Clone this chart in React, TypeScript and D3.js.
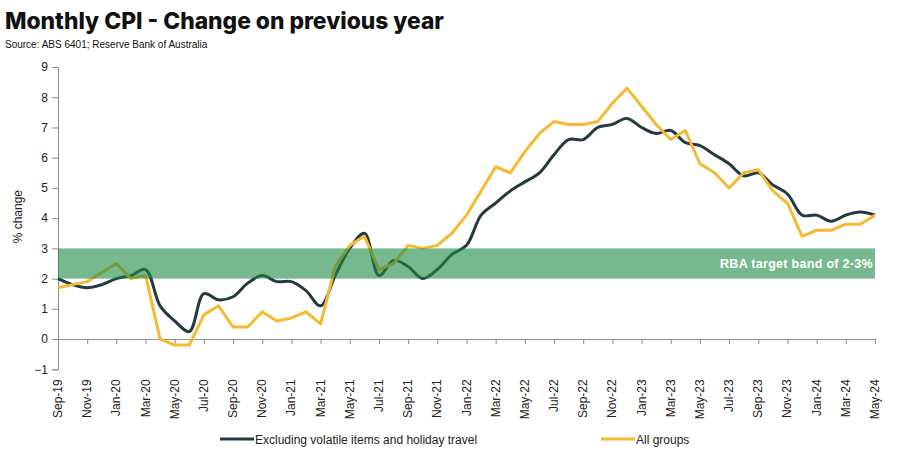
import React, { useEffect, useRef } from 'react';
import * as d3 from 'd3';

const months = [
  'Sep-19', 'Oct-19', 'Nov-19', 'Dec-19', 'Jan-20', 'Feb-20', 'Mar-20', 'Apr-20', 'May-20', 'Jun-20',
  'Jul-20', 'Aug-20', 'Sep-20', 'Oct-20', 'Nov-20', 'Dec-20', 'Jan-21', 'Feb-21', 'Mar-21', 'Apr-21',
  'May-21', 'Jun-21', 'Jul-21', 'Aug-21', 'Sep-21', 'Oct-21', 'Nov-21', 'Dec-21', 'Jan-22', 'Feb-22',
  'Mar-22', 'Apr-22', 'May-22', 'Jun-22', 'Jul-22', 'Aug-22', 'Sep-22', 'Oct-22', 'Nov-22', 'Dec-22',
  'Jan-23', 'Feb-23', 'Mar-23', 'Apr-23', 'May-23', 'Jun-23', 'Jul-23', 'Aug-23', 'Sep-23', 'Oct-23',
  'Nov-23', 'Dec-23', 'Jan-24', 'Feb-24', 'Mar-24', 'Apr-24', 'May-24',
];

// excluding volatile items and holiday travel
const excludingVolatile = [
  2.0, 1.8, 1.7, 1.8, 2.0, 2.1, 2.3, 1.1, 0.6, 0.25,
  1.5, 1.3, 1.4, 1.85, 2.1, 1.9, 1.9, 1.6, 1.1, 2.1,
  3.0, 3.5, 2.1, 2.6, 2.4, 2.0, 2.3, 2.8, 3.1, 4.1,
  4.5, 4.9, 5.2, 5.5, 6.1, 6.6, 6.6, 7.0, 7.1, 7.3,
  7.0, 6.8, 6.9, 6.5, 6.4, 6.1, 5.8, 5.4, 5.5, 5.1,
  4.8, 4.1, 4.1, 3.9, 4.1, 4.2, 4.1,
];

const allGroups = [
  1.7, 1.8, 1.9, 2.2, 2.5, 2.0, 2.1, 0.0, -0.2, -0.2,
  0.8, 1.1, 0.4, 0.4, 0.9, 0.6, 0.7, 0.9, 0.5, 2.4,
  3.1, 3.4, 2.3, 2.5, 3.1, 3.0, 3.1, 3.5, 4.1, 4.9,
  5.7, 5.5, 6.2, 6.8, 7.2, 7.1, 7.1, 7.2, 7.8, 8.3,
  7.7, 7.1, 6.6, 6.9, 5.8, 5.5, 5.0, 5.5, 5.6, 4.9,
  4.5, 3.4, 3.6, 3.6, 3.8, 3.8, 4.1,
];

const yTicks = [-1, 0, 1, 2, 3, 4, 5, 6, 7, 8, 9];
const targetBand = [2, 3];

const WIDTH = 906;
const HEIGHT = 454;

const DARK = '#243a41';
const GOLD = '#f6b932';
const AXIS = '#8c8c8c';

const CPIChart: React.FC = () => {
  const svgRef = useRef<SVGSVGElement>(null);

  useEffect(() => {
    if (!svgRef.current) return;
    const svg = d3.select(svgRef.current);
    svg.selectAll('*').remove();

    const x = d3.scaleLinear().domain([0, months.length - 1]).range([58, 875]);
    const y = d3.scaleLinear().domain([-1, 9]).range([369.3, 67]);

    const font = 'Liberation Sans, Arial, sans-serif';

    // title
    svg.append('text')
      .attr('x', 5).attr('y', 29)
      .attr('font-family', 'Inter, sans-serif')
      .attr('font-weight', 800)
      .attr('font-size', 22.8)
      .attr('fill', '#111')
      .text('Monthly CPI - Change on previous year');

    svg.append('text')
      .attr('x', 5).attr('y', 48)
      .attr('font-family', font)
      .attr('font-size', 10)
      .attr('fill', '#111')
      .text('Source: ABS 6401; Reserve Bank of Australia');

    // y axis
    const yAxis = svg.append('g')
      .attr('transform', `translate(${x(0)},0)`)
      .call(d3.axisLeft(y).tickValues(yTicks).tickSize(6).tickPadding(4).tickFormat(d3.format('d')));
    yAxis.select('.domain').attr('stroke', AXIS);
    yAxis.selectAll('line').attr('stroke', AXIS);
    yAxis.selectAll('text').attr('font-family', font).attr('font-size', 12).attr('fill', '#222');

    svg.append('text')
      .attr('transform', `translate(22,${y(4.05)}) rotate(-90)`)
      .attr('text-anchor', 'middle')
      .attr('font-family', font)
      .attr('font-size', 12)
      .attr('fill', '#222')
      .text('% change');

    // x axis at zero
    const tickIdx = months.map((_, i) => i).filter(i => i % 2 === 0);
    const xAxis = svg.append('g')
      .attr('transform', `translate(0,${y(0)})`)
      .call(d3.axisBottom(x).tickValues(tickIdx).tickSize(5).tickSizeOuter(0).tickFormat(() => ''));
    xAxis.select('.domain').attr('stroke', AXIS);
    xAxis.selectAll('line').attr('stroke', AXIS);

    svg.append('g')
      .selectAll('text')
      .data(tickIdx)
      .join('text')
      .attr('transform', i => `translate(${x(i) + 4},${y(-1) + 10}) rotate(-90)`)
      .attr('text-anchor', 'end')
      .attr('font-family', font)
      .attr('font-size', 12)
      .attr('fill', '#222')
      .text(i => months[i]);

    // lines
    const smooth = d3.line<number>()
      .x((_, i) => x(i))
      .y(d => y(d))
      .curve(d3.curveCatmullRom.alpha(0.5));
    const straight = d3.line<number>()
      .x((_, i) => x(i))
      .y(d => y(d));

    svg.append('path')
      .datum(excludingVolatile)
      .attr('fill', 'none')
      .attr('stroke', DARK)
      .attr('stroke-width', 3)
      .attr('d', smooth);

    svg.append('path')
      .datum(allGroups)
      .attr('fill', 'none')
      .attr('stroke', GOLD)
      .attr('stroke-width', 3)
      .attr('stroke-linejoin', 'round')
      .attr('d', straight);

    // RBA band drawn over the lines
    svg.append('rect')
      .attr('x', x(0))
      .attr('y', y(targetBand[1]))
      .attr('width', x(months.length - 1) - x(0))
      .attr('height', y(targetBand[0]) - y(targetBand[1]))
      .attr('fill', '#1c8a42')
      .attr('fill-opacity', 0.6);

    svg.append('text')
      .attr('x', x(months.length - 1) - 2)
      .attr('y', y(2.5) + 4.5)
      .attr('text-anchor', 'end')
      .attr('font-family', font)
      .attr('font-weight', 'bold')
      .attr('font-size', 12.5)
      .attr('letter-spacing', 0.3)
      .attr('fill', '#fff')
      .text('RBA target band of 2-3%');

    // legend
    const legend = [
      { label: 'Excluding volatile items and holiday travel', color: DARK, x0: 220 },
      { label: 'All groups', color: GOLD, x0: 601 },
    ];
    const lg = svg.append('g');
    legend.forEach(l => {
      lg.append('line')
        .attr('x1', l.x0).attr('x2', l.x0 + 34)
        .attr('y1', 439).attr('y2', 439)
        .attr('stroke', l.color).attr('stroke-width', 3);
      lg.append('text')
        .attr('x', l.x0 + 35).attr('y', 443.5)
        .attr('font-family', font)
        .attr('font-size', 12)
        .attr('fill', '#222')
        .text(l.label);
    });
  }, []);

  return <svg ref={svgRef} width={WIDTH} height={HEIGHT} style={{ position: 'absolute', left: 0, top: 0, background: '#fff' }} />;
};

export default function App() {
  return <CPIChart />;
}
